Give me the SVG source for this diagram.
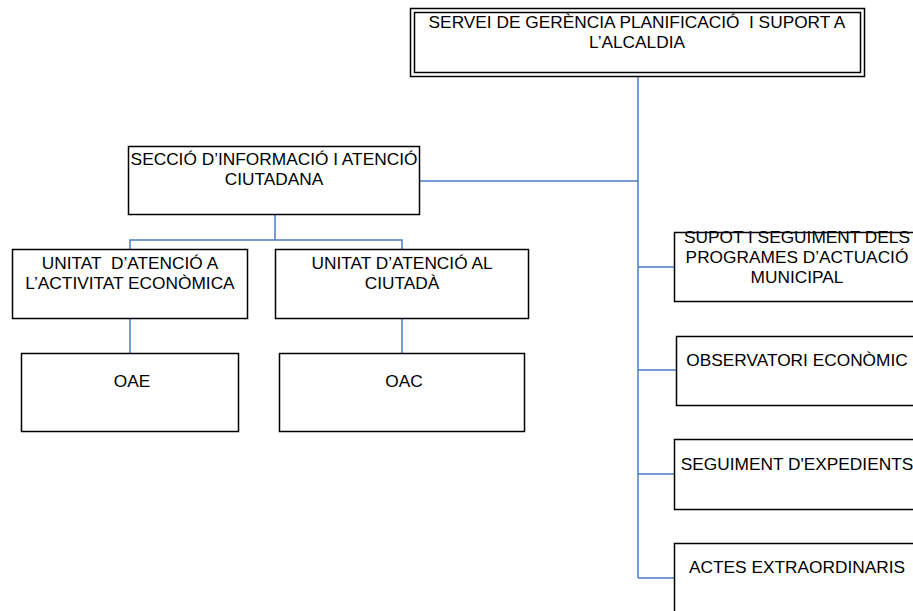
<svg xmlns="http://www.w3.org/2000/svg" width="913" height="611" viewBox="0 0 913 611">
<style>
.box{fill:#fff;stroke:#000;stroke-width:1.5}
.t{font-family:"Liberation Sans",Arial,sans-serif;font-size:17.3px;fill:#000;text-anchor:middle}
.c{stroke:#4a7cc4;stroke-width:1.5;fill:none}
</style>
<rect width="913" height="611" fill="#fff"/>
<g id="connectors">
<path class="c" d="M638 77V578"/>
<path class="c" d="M420 181H638"/>
<path class="c" d="M275 214V240M130 249V240H402V249"/>
<path class="c" d="M130 318V353M402 318V353"/>
<path class="c" d="M638 267H674M638 370H676M638 474H674M638 578H674"/>
</g>
<g id="n-servei">
<rect class="box" x="410.5" y="8.5" width="454" height="68"/>
<rect class="box" x="414.5" y="12.5" width="446" height="60"/>
<text class="t" x="637" y="28" xml:space="preserve">SERVEI DE GERÈNCIA PLANIFICACIÓ  I SUPORT A</text>
<text class="t" x="637" y="48">L’ALCALDIA</text>
</g>
<g id="n-seccio">
<rect class="box" x="128.5" y="146.5" width="291" height="68"/>
<text class="t" x="274" y="165">SECCIÓ D’INFORMACIÓ I ATENCIÓ</text>
<text class="t" x="274" y="185">CIUTADANA</text>
</g>
<g id="n-uae">
<rect class="box" x="12.5" y="249.5" width="235" height="69"/>
<text class="t" x="130" y="269" xml:space="preserve">UNITAT  D’ATENCIÓ A</text>
<text class="t" x="130" y="289">L’ACTIVITAT ECONÒMICA</text>
</g>
<g id="n-uac">
<rect class="box" x="275.5" y="249.5" width="253" height="69"/>
<text class="t" x="402" y="269">UNITAT D’ATENCIÓ AL</text>
<text class="t" x="402" y="289">CIUTADÀ</text>
</g>
<g id="n-oae">
<rect class="box" x="21.5" y="353.5" width="217" height="78"/>
<text class="t" x="132" y="387">OAE</text>
</g>
<g id="n-oac">
<rect class="box" x="279.5" y="353.5" width="245" height="78"/>
<text class="t" x="404" y="387">OAC</text>
</g>
<g id="n-supot">
<rect class="box" x="674.5" y="232.5" width="250" height="69"/>
<text class="t" x="797" y="243">SUPOT I SEGUIMENT DELS</text>
<text class="t" x="797" y="263">PROGRAMES D’ACTUACIÓ</text>
<text class="t" x="797" y="283">MUNICIPAL</text>
</g>
<g id="n-observatori">
<rect class="box" x="676.5" y="336.5" width="250" height="69"/>
<text class="t" x="797" y="366">OBSERVATORI ECONÒMIC</text>
</g>
<g id="n-seguiment">
<rect class="box" x="674.5" y="439.5" width="250" height="70"/>
<text class="t" x="797" y="470">SEGUIMENT D'EXPEDIENTS</text>
</g>
<g id="n-actes">
<rect class="box" x="674.5" y="543.5" width="250" height="80"/>
<text class="t" x="797" y="573">ACTES EXTRAORDINARIS</text>
</g>
</svg>
